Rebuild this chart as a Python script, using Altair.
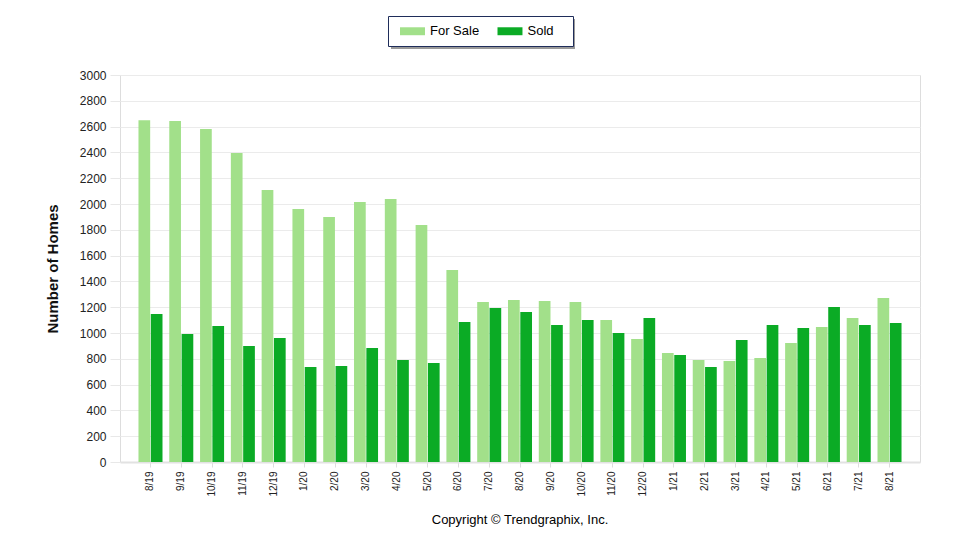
import altair as alt
import pandas as pd

months = ["8/19", "9/19", "10/19", "11/19", "12/19", "1/20", "2/20", "3/20", "4/20",
          "5/20", "6/20", "7/20", "8/20", "9/20", "10/20", "11/20", "12/20", "1/21",
          "2/21", "3/21", "4/21", "5/21", "6/21", "7/21", "8/21"]
for_sale = [2650, 2643, 2581, 2395, 2108, 1961, 1899, 2015, 2039, 1837, 1488, 1240, 1256,
            1248, 1240, 1101, 953, 845, 791, 783, 806, 922, 1047, 1116, 1271]
sold = [1147, 992, 1054, 899, 961, 736, 744, 884, 791, 767, 1085, 1194, 1163, 1062, 1101,
        1000, 1116, 829, 736, 946, 1062, 1039, 1202, 1062, 1078]
series = ["For Sale", "Sold"]
colors = ["#a2e08a", "#0bab25"]
y_ticks = list(range(0, 3001, 200))

rows = []
for m, fs, sd in zip(months, for_sale, sold):
    rows.append({"month": m, "series": "For Sale", "homes": fs})
    rows.append({"month": m, "series": "Sold", "homes": sd})
df = pd.DataFrame(rows)

FONT = "Liberation Sans"

bars = alt.Chart(df).mark_bar().encode(
    x=alt.X("month:N", sort=months,
            scale=alt.Scale(paddingInner=0.22, paddingOuter=0.6),
            axis=alt.Axis(title=None, labelAngle=-90, labelFontSize=10, labelFont=FONT,
                          labelColor="#222222", labelPadding=4, tickSize=5,
                          tickColor="#dddddd", domainColor="#e2e2e2", domainWidth=2,
                          grid=False)),
    xOffset=alt.XOffset("series:N", sort=series, scale=alt.Scale(paddingInner=0.05)),
    y=alt.Y("homes:Q", scale=alt.Scale(domain=[0, 3000], nice=False),
            axis=alt.Axis(title="Number of Homes", values=y_ticks, format="d", domain=False,
                          tickSize=10, tickColor="#e8e8e8", labelPadding=4,
                          labelFontSize=12, labelFont=FONT, labelColor="#222222",
                          titleFont=FONT, titleFontSize=15, titleFontWeight="bold",
                          titleColor="#111111", titlePadding=19,
                          gridColor="#ebebeb", gridWidth=1)),
    color=alt.Color("series:N", sort=series,
                    scale=alt.Scale(domain=series, range=colors),
                    legend=alt.Legend(title=".", titleOrient="right", titleColor="#ffffff",
                                      titleFontSize=12, titlePadding=8,
                                      orient="none", legendX=268, legendY=-59,
                                      direction="horizontal", columns=2,
                                      symbolType="M-0.4,-0.53H2.93V0.53H-0.4Z",
                                      symbolSize=225, symbolStrokeWidth=0,
                                      symbolOpacity=1, labelOffset=19.5,
                                      labelFontSize=13, labelFont=FONT,
                                      labelColor="#000000", columnPadding=13.5,
                                      padding=7.5, strokeColor="#1f2d5a",
                                      fillColor="#ffffff", cornerRadius=0)),
)

shadow = alt.Chart(pd.DataFrame({"a": [0]})).mark_rect(color="#555555", opacity=0.6).encode(
    x=alt.value(271), x2=alt.value(455), y=alt.value(-56), y2=alt.value(-26)
)

chart = alt.layer(shadow, bars).properties(
    width=800, height=387,
    autosize=alt.AutoSizeParams(type="none"),
    padding={"left": 112, "top": 67, "right": 32, "bottom": 80},
    title=alt.TitleParams("Copyright © Trendgraphix, Inc.", orient="bottom",
                          anchor="middle", fontSize=13, font=FONT, fontWeight="normal",
                          color="#000000", offset=18),
).configure_view(stroke=None).configure(background="#ffffff")

chart.save("out.html", embed_options={"renderer": "svg", "actions": False})
